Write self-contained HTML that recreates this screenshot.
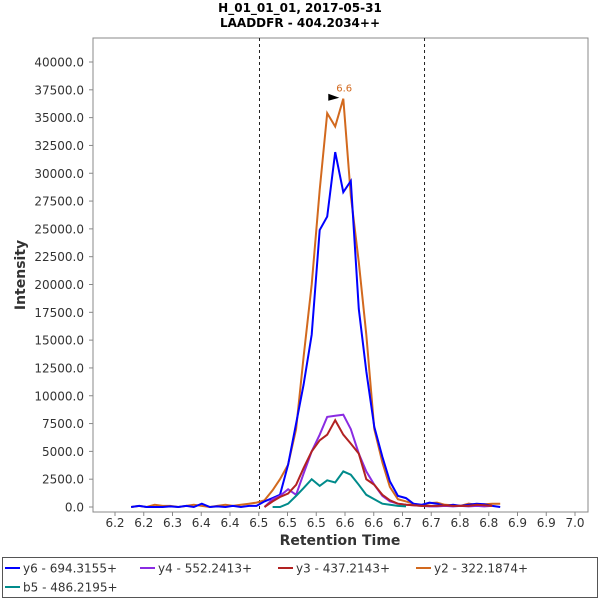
<!DOCTYPE html>
<html><head><meta charset="utf-8"><style>
body{margin:0;background:#fff;font-family:"Liberation Sans","DejaVu Sans",sans-serif}
svg text{font-family:"DejaVu Sans","Liberation Sans",sans-serif}
</style></head><body>
<svg id="c" width="600" height="600" xmlns="http://www.w3.org/2000/svg"></svg>
<script>
const times=[6.208,6.222,6.235,6.249,6.263,6.276,6.290,6.304,6.317,6.331,6.345,6.358,6.372,6.385,6.399,6.413,6.426,6.440,6.454,6.467,6.481,6.495,6.508,6.522,6.536,6.549,6.563,6.577,6.590,6.604,6.617,6.631,6.645,6.658,6.672,6.686,6.699,6.713,6.727,6.740,6.754,6.768,6.781,6.795,6.809,6.822,6.836,6.850];
const y6=[0,100,0,0,0,50,0,100,0,300,0,50,0,100,0,100,100,500,800,1100,3800,7500,11000,15500,24900,26100,31900,28300,29300,17800,12200,7200,4500,2300,1000,800,300,200,400,300,100,200,100,200,300,250,100,0];
const y4=[null,null,null,null,null,null,null,null,null,null,null,null,null,null,null,null,null,0,700,1000,1600,1100,3000,5000,6500,8100,8200,8300,7000,4800,3200,2000,1000,500,300,200,150,100,50,50,100,50,100,50,100,50,100,null];
const y3=[null,null,null,null,null,null,null,null,null,null,null,null,null,null,null,null,null,0,500,900,1200,2000,3500,5000,6000,6500,7800,6500,5700,4800,2500,2000,1100,600,300,200,150,100,100,100,150,100,100,100,200,150,100,null];
const y2=[0,100,0,200,100,100,0,100,200,100,0,100,200,100,200,300,400,600,1500,2500,3800,7000,13500,20000,28500,35400,34200,36700,28000,22000,15500,7000,4000,1800,700,500,300,150,350,400,200,150,100,300,200,250,300,300];
const b5=[null,null,null,null,null,null,null,null,null,null,null,null,null,null,null,null,null,null,0,0,300,1000,1700,2500,1900,2400,2200,3200,2900,2000,1100,700,300,200,100,50,null,null,null,null,null,null,null,null,null,null,null,null];
const yTicks=[0,2500,5000,7500,10000,12500,15000,17500,20000,22500,25000,27500,30000,32500,35000,37500,40000];
const xTickLabels=["6.2","6.2","6.3","6.4","6.4","6.5","6.5","6.5","6.6","6.6","6.7","6.7","6.8","6.8","6.9","6.9","7.0"];
const xTickStart=6.18, xTickStep=0.05;
const boundaries=[6.4313,6.7183];
const apexTime=6.577, apexValue=36700, apexLabel="6.6";
const seriesNames=["y6 - 694.3155+","y4 - 552.2413+","y3 - 437.2143+","y2 - 322.1874+","b5 - 486.2195+"];
const seriesColors=["#0000ff","#8a2be2","#b22222","#d2691e","#008b8b"];
const seriesData=[y6,y4,y3,y2,b5];

const svg=document.getElementById('c');const NS='http://www.w3.org/2000/svg';
function mk(t,a,p){const e=document.createElementNS(NS,t);for(const k in a)e.setAttribute(k,a[k]);(p||svg).appendChild(e);return e;}
const L=93,R=588,T=38,B=512;
const X=t=>115+(t-xTickStart)/xTickStep*28.75;
const Y=v=>507-v*0.011125;
let e;
e=mk('text',{x:300,y:12,'text-anchor':'middle','font-size':12,'font-weight':'bold'});e.textContent='H_01_01_01, 2017-05-31';


e=mk('text',{x:300,y:27,'text-anchor':'middle','font-size':12,'font-weight':'bold'});e.textContent='LAADDFR - 404.2034++';


e=mk('rect',{x:L,y:T,width:R-L,height:B-T,fill:'#fff',stroke:'#888'});


yTicks.forEach(v=>{const y=Y(v);mk('line',{x1:L-4,x2:L,y1:y,y2:y,stroke:'#888'});
e=mk('text',{x:84,y:y+4.5,'text-anchor':'end','font-size':12,fill:'#333'});e.textContent=v.toFixed(1);

});
xTickLabels.forEach((s,i)=>{const x=X(xTickStart+i*xTickStep);mk('line',{x1:x,x2:x,y1:B,y2:B+4,stroke:'#888'});
e=mk('text',{x:x,y:B+15,'text-anchor':'middle','font-size':12,fill:'#333'});e.textContent=s;

});
e=mk('text',{x:0,y:0,'text-anchor':'middle','font-size':14,'font-weight':'bold',fill:'#333',transform:'translate(25,275) rotate(-90)'});e.textContent='Intensity';


e=mk('text',{x:340,y:545,'text-anchor':'middle','font-size':14,'font-weight':'bold',fill:'#333'});e.textContent='Retention Time';


boundaries.forEach(b=>{e=mk('line',{x1:X(b),x2:X(b),y1:T,y2:B,stroke:'#222','stroke-dasharray':'3,3'});

});
[3,0,1,2,4].forEach(k=>{const d=seriesData[k];let p='',pen=false;
d.forEach((v,i)=>{if(v===null){pen=false;return;}p+=(pen?'L':'M')+X(times[i]).toFixed(1)+','+Y(v).toFixed(1);pen=true;});
e=mk('path',{d:p,fill:'none',stroke:seriesColors[k],'stroke-width':2});

});
const ax=X(apexTime),ay=Y(apexValue);
e=mk('polygon',{points:`${ax-15},${ay-5} ${ax-4},${ay-1} ${ax-15},${ay+2}`,fill:'#000'});


e=mk('text',{x:ax-7,y:ay-7,'font-size':10,fill:'#d2691e'});e.textContent=apexLabel;


e=mk('rect',{x:2.5,y:557.5,width:595,height:40,fill:'#fff',stroke:'#555'});


const pos=[[5,568],[140,568],[278,568],[416,568],[5,587]];
seriesNames.forEach((n,k)=>{const g=mk('g',{});


mk('line',{x1:pos[k][0],x2:pos[k][0]+15,y1:pos[k][1],y2:pos[k][1],stroke:seriesColors[k],'stroke-width':2},g);
const t=mk('text',{x:pos[k][0]+18,y:pos[k][1]+4.5,'font-size':12,fill:'#333'},g);t.textContent=n;});
</script>
</body></html>
